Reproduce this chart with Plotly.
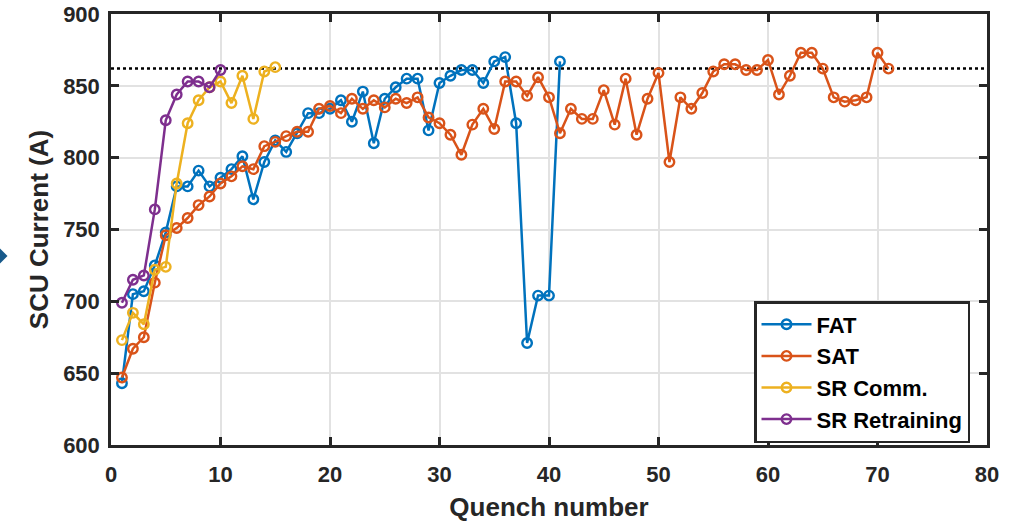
import plotly.graph_objects as go

# ---- data ----
fat_x = list(range(1, 42))
fat_y = [643, 705, 707, 725, 748, 780, 780, 791, 780, 786, 792, 801, 771, 797, 812,
         804, 817, 831, 831, 834, 840, 825, 846, 810, 841, 849, 855, 855, 819, 852,
         857, 861, 861, 852, 867, 870, 824, 671, 704, 704, 867]

sat_x = list(range(1, 72))
sat_y = [647, 667, 675, 713, 746, 751, 758, 767, 773, 782, 787, 794, 792, 808, 811,
         815, 818, 818, 834, 836, 831, 841, 834, 840, 835, 841, 838, 842, 828, 824,
         816, 802, 823, 834, 820, 853, 853, 843, 856, 842, 817, 834, 827, 827, 847,
         823, 855, 816, 841, 859, 797, 842, 834, 845, 860, 865, 865, 861, 861, 868,
         844, 857, 873, 873, 862, 842, 839, 840, 842, 873, 862]

srcomm_x = list(range(1, 16))
srcomm_y = [673, 692, 684, 722, 724, 782, 824, 840, 849, 853, 838, 857, 827, 860, 863]

srretr_x = list(range(1, 11))
srretr_y = [699, 715, 718, 764, 826, 844, 853, 853, 849, 861]

ref_level = 862
x_ticks = [0, 10, 20, 30, 40, 50, 60, 70, 80]
y_ticks = [600, 650, 700, 750, 800, 850, 900]

series = [
    ("FAT", fat_x, fat_y, "#0072BD"),
    ("SAT", sat_x, sat_y, "#D95319"),
    ("SR Comm.", srcomm_x, srcomm_y, "#EDB120"),
    ("SR Retraining", srretr_x, srretr_y, "#7E2F8E"),
]

FONT = "Liberation Sans, Arial, sans-serif"
TXT = "#262626"

fig = go.Figure()

# reference dotted line
fig.add_trace(go.Scatter(x=[x_ticks[0], x_ticks[-1]], y=[ref_level, ref_level],
                         mode="lines", line=dict(color="black", width=2.5, dash="dot"),
                         showlegend=False, hoverinfo="skip"))

for name, xs, ys, col in series:
    fig.add_trace(go.Scatter(
        x=xs, y=ys, name=name, mode="lines+markers",
        line=dict(color=col, width=2.5),
        marker=dict(symbol="circle-open", size=9.5, color=col, line=dict(width=2.4, color=col)),
    ))

L, R, T, B = 111, 38, 14, 81
W, H = 1025, 526
pw, ph = W - L - R, H - T - B

def px(x):
    return (x - L) / pw

def py(y):
    return (H - B - y) / ph

# decorative slide arrow at left edge
cx, cy, s = -1, 256, 8.5
path = (f"M {px(cx - s)} {py(cy)} L {px(cx)} {py(cy - s)} "
        f"L {px(cx + s)} {py(cy)} L {px(cx)} {py(cy + s)} Z")
fig.add_shape(type="path", path=path, xref="paper", yref="paper",
              fillcolor="#17598a", line=dict(width=0), layer="above")

axis_common = dict(
    showline=True, linecolor=TXT, linewidth=2.5, mirror="allticks",
    ticks="inside", ticklen=8, tickwidth=2.5, tickcolor=TXT,
    showgrid=True, gridcolor="#e2e2e2", gridwidth=2,
    zeroline=False, automargin=False,
    tickfont=dict(family=FONT, size=22, color=TXT, weight="bold"),
)

fig.update_layout(
    width=W, height=H,
    margin=dict(l=L, r=R, t=T, b=B, autoexpand=False),
    paper_bgcolor="white", plot_bgcolor="white",
    xaxis=dict(range=[0, 80], tickvals=x_ticks, ticklabelstandoff=8,
               title=dict(text="Quench number", standoff=12,
                          font=dict(family=FONT, size=26, color=TXT, weight="bold")),
               **axis_common),
    yaxis=dict(range=[600, 900], tickvals=y_ticks, ticklabelstandoff=4,
               title=dict(text="SCU Current (A)", standoff=8,
                          font=dict(family=FONT, size=26, color=TXT, weight="bold")),
               **axis_common),
    legend=dict(x=px(970), y=py(372), xanchor="right", yanchor="middle",
                bgcolor="white", bordercolor="#262626", borderwidth=2.5,
                itemwidth=50,
                font=dict(family=FONT, size=22, color="black", weight="bold"),
                tracegroupgap=0),
    showlegend=True,
)

fig.write_html("out.html", config={"displayModeBar": False},
               post_script="document.body.style.margin='0';document.body.style.overflow='hidden';")
